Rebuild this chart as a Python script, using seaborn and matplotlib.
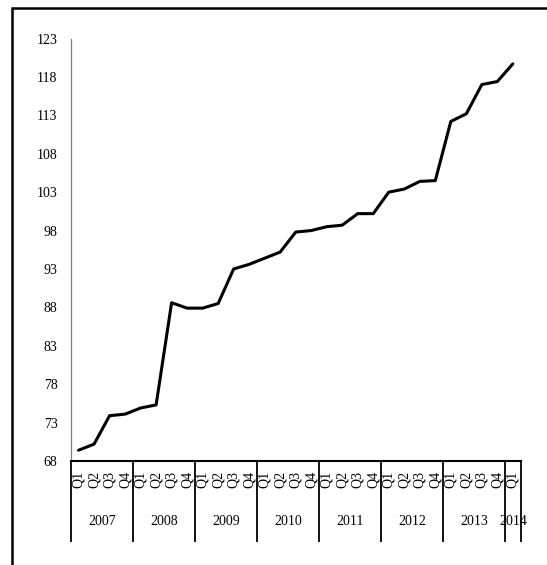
import numpy as np
import pandas as pd
import matplotlib
matplotlib.use("Agg")
import matplotlib.pyplot as plt
import matplotlib.transforms as mtransforms
from matplotlib.patches import Rectangle
import seaborn as sns

# ---- data ----
years = ["2007", "2008", "2009", "2010", "2011", "2012", "2013", "2014"]
quarters_per_year = [4, 4, 4, 4, 4, 4, 4, 1]
quarter_names = ["Q1", "Q2", "Q3", "Q4"]
values = [
    69.4, 70.2, 73.9, 74.1,      # 2007
    74.9, 75.3, 88.6, 87.9,      # 2008
    87.9, 88.5, 93.0, 93.6,      # 2009
    94.4, 95.2, 97.8, 98.0,      # 2010
    98.5, 98.7, 100.2, 100.2,    # 2011
    103.0, 103.4, 104.4, 104.5,  # 2012
    112.2, 113.2, 117.0, 117.4,  # 2013
    119.7,                       # 2014
]
y_ticks = [68, 73, 78, 83, 88, 93, 98, 103, 108, 113, 118, 123]

q_labels = [quarter_names[i] for n in quarters_per_year for i in range(n)]
df = pd.DataFrame({"pos": np.arange(len(values)), "quarter": q_labels, "value": values})

# ---- style ----
sns.set_style("white")
plt.rcParams["font.family"] = ["Liberation Serif", "DejaVu Serif"]

W, H = 547, 565
fig = plt.figure(figsize=(W / 100, H / 100), dpi=100)
ax = fig.add_axes([70.8 / W, 1 - 461 / H, (520.6 - 70.8) / W, (461 - 38.5) / H])

sns.lineplot(data=df, x="pos", y="value", ax=ax, color="black", linewidth=2.2, legend=False)

ax.set_xlim(-0.5, len(values) - 0.5)
ax.set_ylim(y_ticks[0], y_ticks[-1])
ax.set_yticks(y_ticks)
ax.set_yticklabels([str(t) for t in y_ticks], fontsize=10)
ax.set_xticks(df["pos"])
ax.set_xticklabels(df["quarter"], rotation=90, fontsize=10)
ax.tick_params(axis="y", length=0, pad=9.5, colors="black")
ax.tick_params(axis="x", length=0, pad=7, colors="black")
ax.set_xlabel("")
ax.set_ylabel("")

for s in ["top", "right"]:
    ax.spines[s].set_visible(False)
ax.spines["left"].set_color("#808080")
ax.spines["left"].set_linewidth(0.9)
ax.spines["bottom"].set_color("black")
ax.spines["bottom"].set_linewidth(1.5)

# year group separators and labels
blend = mtransforms.blended_transform_factory(ax.transData, ax.transAxes)
sep_bottom = -81 / 422.5
label_y = -60.5 / 422.5
start = -0.5
bounds = [start]
for y, n in zip(years, quarters_per_year):
    end = start + n
    ax.text((start + end) / 2, label_y, y, transform=blend, ha="center", va="center",
            fontsize=10, color="black")
    bounds.append(end)
    start = end
for b in bounds:
    ax.plot([b, b], [0, sep_bottom], transform=blend, color="black", lw=1.3,
            clip_on=False, solid_capstyle="butt")

# outer border of the picture
fig.patches.append(Rectangle((11.5 / W, -0.2), 1.5, 1.2 - 7.7 / H, transform=fig.transFigure,
                             fill=False, edgecolor="black", linewidth=1.8))

fig.savefig("out.png", dpi=100)
